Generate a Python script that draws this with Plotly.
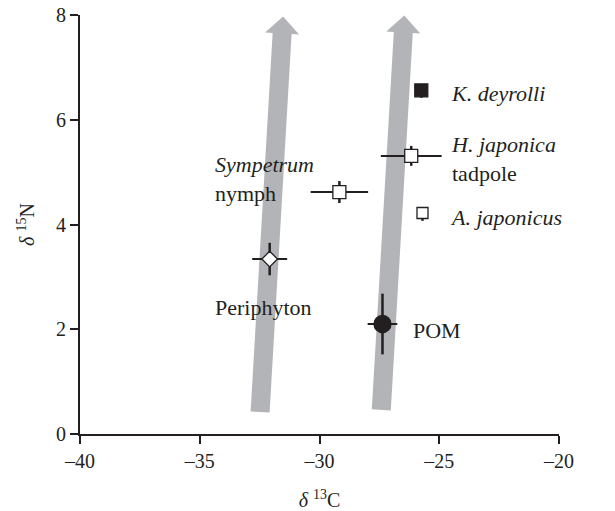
import plotly.graph_objects as go
import math

# ---- data ----
names = ["K. deyrolli", "H. japonica tadpole", "Sympetrum nymph", "A. japonicus", "Periphyton", "POM"]
d13C = [-25.75, -26.17, -29.17, -25.70, -32.08, -27.37]
d15N = [6.56, 5.31, 4.62, 4.22, 3.34, 2.10]
err_C = [0.0, 1.27, 1.20, 0.0, 0.73, 0.62]
err_N_plus = [0.0, 0.19, 0.21, 0.0, 0.31, 0.58]
err_N_minus = [0.14, 0.19, 0.21, 0.15, 0.31, 0.58]
symbols = ["square", "square", "square", "square", "diamond", "circle"]
fills = ["#231f20", "white", "white", "white", "white", "#231f20"]
sizes = [13, 13, 13, 11, 12, 17]

# arrows (start -> tip, data coords)
arrow_start_x = [-32.48, -27.42]
arrow_start_y = [0.42, 0.46]
arrow_tip_x = [-31.52, -26.46]
arrow_tip_y = [7.97, 7.99]

x_ticks = [-40, -35, -30, -25, -20]
x_ticktext = ["–40", "–35", "–30", "–25", "–20"]
y_ticks = [0, 2, 4, 6, 8]

# labels
lab_text = ["<i>K. deyrolli</i>", "<i>H. japonica</i><br>tadpole", "<i>Sympetrum</i><br>nymph",
            "<i>A. japonicus</i>", "Periphyton", "POM"]
lab_x = [-24.58, -24.58, -34.45, -24.62, -34.45, -26.2]
lab_y = [6.51, 5.26, 4.86, 4.14, 2.42, 1.98]

INK = "#231f20"
FONT = "Liberation Serif"

W, H = 615, 511
L, R, T, B = 80, 56, 15, 77
xr = [-40, -20]
yr = [0, 8]
sx = (W - L - R) / (xr[1] - xr[0])
sy = (H - T - B) / (yr[1] - yr[0])

fig = go.Figure()

# arrow shapes
shapes = []
for x0, y0, x1, y1 in zip(arrow_start_x, arrow_start_y, arrow_tip_x, arrow_tip_y):
    dxp, dyp = (x1 - x0) * sx, (y1 - y0) * sy
    ln = math.hypot(dxp, dyp)
    ux, uy = dxp / ln, dyp / ln
    nx, ny = -uy, ux
    shaft, head_w, head_l = 9.5, 17, 17
    def pt(t, off):
        px = x0 * sx + ux * t + nx * off
        py = y0 * sy + uy * t + ny * off
        return px / sx, py / sy
    pts = [pt(0, -shaft), pt(ln - head_l, -shaft), pt(ln - head_l, -head_w),
           pt(ln, 0), pt(ln - head_l, head_w), pt(ln - head_l, shaft), pt(0, shaft)]
    path = "M " + " L ".join(f"{a:.4f},{b:.4f}" for a, b in pts) + " Z"
    shapes.append(dict(type="path", path=path, xref="x", yref="y",
                       fillcolor="#b3b4b8", line=dict(width=0), layer="below"))

for i in range(len(names)):
    fig.add_trace(go.Scatter(
        x=[d13C[i]], y=[d15N[i]], mode="markers", name=names[i],
        marker=dict(symbol=symbols[i], size=sizes[i], color=fills[i],
                    line=dict(color=INK, width=1.3)),
        error_x=dict(type="data", array=[err_C[i]], visible=err_C[i] > 0,
                     color=INK, thickness=2, width=0),
        error_y=dict(type="data", symmetric=False, array=[err_N_plus[i]],
                     arrayminus=[err_N_minus[i]], visible=True,
                     color=INK, thickness=2.5, width=0),
        showlegend=False, cliponaxis=False,
    ))

annotations = []
for t, x, y in zip(lab_text, lab_x, lab_y):
    annotations.append(dict(text=t, x=x, y=y, xref="x", yref="y", showarrow=False,
                            xanchor="left", yanchor="middle", align="left",
                            font=dict(family=FONT, size=22, color=INK)))

fig.update_layout(
    template="none",
    width=W, height=H, margin=dict(l=L, r=R, t=T, b=B, autoexpand=False),
    plot_bgcolor="white", paper_bgcolor="white",
    shapes=shapes, annotations=annotations,
    font=dict(family=FONT, size=20, color=INK),
    xaxis=dict(range=xr, tickvals=x_ticks, ticktext=x_ticktext, showgrid=False, zeroline=False,
               automargin=False, ticklabeloverflow="allow",
               showline=True, linecolor=INK, linewidth=2, ticks="outside", ticklen=8,
               tickwidth=2, tickcolor=INK, tickfont=dict(size=20),
               title=dict(text="<i>δ</i> <sup>13</sup>C", font=dict(size=20), standoff=25)),
    yaxis=dict(range=yr, tickvals=y_ticks, showgrid=False, zeroline=False,
               automargin=False, ticklabeloverflow="allow",
               showline=True, linecolor=INK, linewidth=2, ticks="outside", ticklen=8,
               tickwidth=2, tickcolor=INK, tickfont=dict(size=20),
               title=dict(text="<i>δ</i> <sup>15</sup>N", font=dict(size=20), standoff=16)),
)

fig.write_html("out.html", config={"displayModeBar": False},
               post_script="document.body.style.margin='0';document.body.style.padding='0';")
